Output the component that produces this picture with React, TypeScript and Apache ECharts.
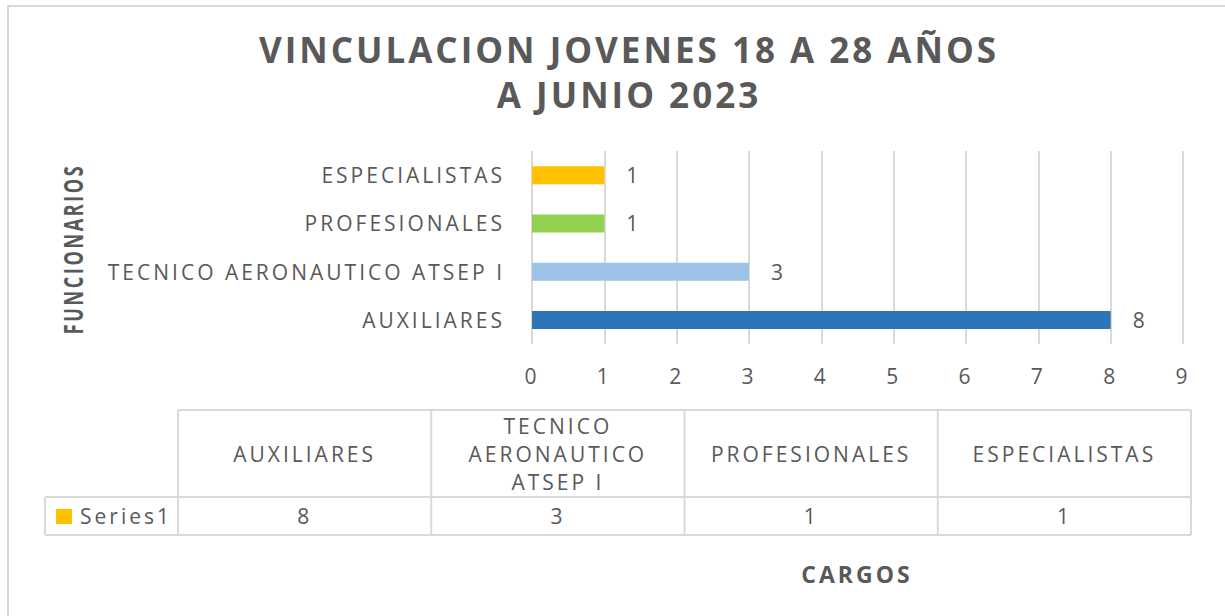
import React, { useEffect, useRef } from 'react';
import * as echarts from 'echarts';

const categories = ['AUXILIARES', 'TECNICO AERONAUTICO ATSEP I', 'PROFESIONALES', 'ESPECIALISTAS'];
const values = [8, 3, 1, 1];
const barColors = ['#2E75B6', '#9DC3E6', '#92D050', '#FFC000'];
const seriesName = 'Series1';
const legendColor = '#FFC000';
const titleLines = ['VINCULACION JOVENES 18 A 28 AÑOS', 'A JUNIO 2023'];
const yAxisTitle = 'FUNCIONARIOS';
const xAxisTitle = 'CARGOS';
const xMin = 0;
const xMax = 9;
const xInterval = 1;

const TEXT = '#595959';
const LINE = '#D9D9D9';
const FONT = '"Open Sans", sans-serif';
const FS = 21;

function wrap(s: string, max: number): string {
  const words = s.split(' ');
  const lines: string[] = [];
  let cur = '';
  for (const w of words) {
    if (!cur) cur = w;
    else if ((cur + ' ' + w).length <= max) cur = cur + ' ' + w;
    else {
      lines.push(cur);
      cur = w;
    }
  }
  if (cur) lines.push(cur);
  return lines.join('\n');
}

export default function App() {
  const ref = useRef<HTMLDivElement>(null);
  useEffect(() => {
    document.body.style.margin = '0';
    const chart = echarts.init(ref.current as HTMLDivElement, null, { renderer: 'svg' });

    const tableLeft = 178;
    const colW = 253.25;
    const legendLeft = 45;
    const top = 410;
    const mid = 497;
    const bottom = 535;
    const tableRight = tableLeft + colW * categories.length;
    const lineStyle = { stroke: LINE, lineWidth: 2 };
    const g: any[] = [];

    g.push({
      type: 'rect', silent: true,
      shape: { x: 8, y: 6, width: 1400, height: 800 },
      style: { fill: 'none', stroke: LINE, lineWidth: 2 },
    });
    g.push({ type: 'line', silent: true, shape: { x1: tableLeft, y1: top, x2: tableRight, y2: top }, style: lineStyle });
    g.push({ type: 'line', silent: true, shape: { x1: legendLeft, y1: mid, x2: tableRight, y2: mid }, style: lineStyle });
    g.push({ type: 'line', silent: true, shape: { x1: legendLeft, y1: bottom, x2: tableRight, y2: bottom }, style: lineStyle });
    g.push({ type: 'line', silent: true, shape: { x1: legendLeft, y1: mid, x2: legendLeft, y2: bottom }, style: lineStyle });
    for (let i = 0; i <= categories.length; i++) {
      const x = tableLeft + colW * i;
      g.push({ type: 'line', silent: true, shape: { x1: x, y1: top, x2: x, y2: bottom }, style: lineStyle });
    }
    categories.forEach((c, i) => {
      const cx = tableLeft + colW * i + colW / 2;
      g.push({
        type: 'text', silent: true, x: cx, y: (top + mid) / 2,
        style: {
          text: wrap(c, 12), fill: TEXT, font: `${FS}px ${FONT}`, lineHeight: 28,
          align: 'center', verticalAlign: 'middle',
        },
      });
      g.push({
        type: 'text', silent: true, x: cx, y: (mid + bottom) / 2,
        style: {
          text: String(values[i]), fill: TEXT, font: `${FS}px ${FONT}`,
          align: 'center', verticalAlign: 'middle',
        },
      });
    });
    g.push({
      type: 'rect', silent: true,
      shape: { x: 56, y: 509, width: 16, height: 15 },
      style: { fill: legendColor },
    });
    g.push({
      type: 'text', silent: true, x: 80, y: (mid + bottom) / 2,
      style: { text: seriesName, fill: TEXT, font: `${FS}px ${FONT}`, align: 'left', verticalAlign: 'middle' },
    });
    g.push({
      type: 'text', silent: true, x: 72, y: 249, rotation: Math.PI / 2, scaleX: 0.86, scaleY: 1.3,
      style: { text: yAxisTitle, fill: TEXT, font: `bold 21px ${FONT}`, align: 'center', verticalAlign: 'middle' },
    });
    g.push({
      type: 'text', silent: true, x: 857, y: 574,
      style: { text: xAxisTitle, fill: TEXT, font: `bold 23px ${FONT}`, align: 'center', verticalAlign: 'middle' },
    });

    chart.setOption({
      animation: false,
      textStyle: { fontFamily: FONT },
      title: {
        text: titleLines.join('\n'),
        left: 624,
        textAlign: 'center',
        top: 22,
        textStyle: { fontSize: 35, fontWeight: 'bold', color: TEXT, lineHeight: 45, fontFamily: FONT },
      },
      grid: { left: 532, right: 42, top: 151, bottom: 272, containLabel: false },
      xAxis: {
        type: 'value', min: xMin, max: xMax, interval: xInterval,
        axisLine: { show: false }, axisTick: { show: false },
        splitLine: { show: true, lineStyle: { color: LINE, width: 2 } },
        axisLabel: { color: TEXT, fontSize: FS, margin: 21, fontFamily: FONT },
      },
      yAxis: {
        type: 'category', data: categories,
        axisLine: { show: false }, axisTick: { show: false },
        axisLabel: { color: TEXT, fontSize: FS, margin: 27, fontFamily: FONT, interval: 0 },
      },
      series: [{
        type: 'bar', name: seriesName, barWidth: 18,
        data: values.map((v, i) => ({ value: v, itemStyle: { color: barColors[i] } })),
        label: { show: true, position: 'right', distance: 22, fontSize: FS, color: TEXT, fontFamily: FONT },
      }],
      graphic: g,
    });
    return () => chart.dispose();
  }, []);
  return <div ref={ref} style={{ width: 1225, height: 616, letterSpacing: '3px' }} />;
}
